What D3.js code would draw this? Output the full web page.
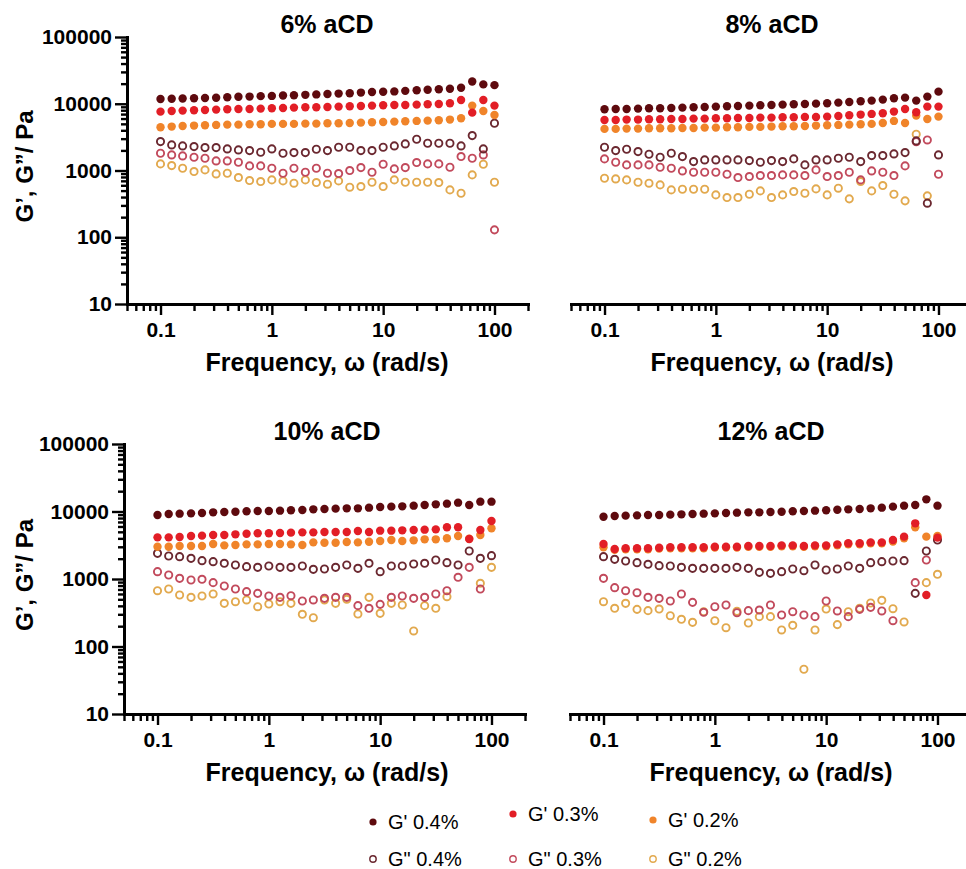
<!DOCTYPE html>
<html>
<head>
<meta charset="utf-8">
<script src="https://cdn.jsdelivr.net/npm/d3@7"></script>
<style>
body{margin:0;background:#fff;}
svg text{font-family:"Liberation Sans",Arial,Helvetica,sans-serif;}
</style>
</head>
<body>
<svg id="chart" width="966" height="869"></svg>
<script>
// frequency sweep (rad/s)
const freq = [0.1, 0.126, 0.158, 0.2, 0.251, 0.316, 0.398, 0.501, 0.631, 0.794,
              1, 1.26, 1.58, 2, 2.51, 3.16, 3.98, 5.01, 6.31, 7.94,
              10, 12.6, 15.8, 20, 25.1, 31.6, 39.8, 50.1, 63.1, 79.4, 100];
const seriesNames = ["G' 0.4%", "G' 0.3%", "G' 0.2%", 'G" 0.4%', 'G" 0.3%', 'G" 0.2%'];
const seriesColors = ['#5e0a0e', '#e21e26', '#f0842a', '#6b2830', '#c24a5c', '#e2a94e'];
const seriesFilled = [true, true, true, false, false, false];
const panelTitles = ['6% aCD', '8% aCD', '10% aCD', '12% aCD'];
const yTicks = [10, 100, 1000, 10000, 100000];
const xTicks = [0.1, 1, 10, 100];

// 6% aCD
const p6_Gp04 = [11800,11900,12000,12100,12200,12300,12500,12700,12800,13000,13100,13300,13400,13600,13800,14000,14200,14400,14700,15000,15100,15300,15600,15900,16200,16500,16800,17400,21500,19500,19000];
const p6_Gp03 = [7620,7800,7890,7980,8070,8170,8260,8360,8360,8460,8550,8650,8750,8850,8850,8960,9060,9170,9270,9380,9490,9600,9600,9710,9820,9930,10160,11400,7360,11400,9380];
const p6_Gp02 = [4440,4550,4650,4710,4760,4820,4870,4870,4930,4930,4990,4990,4990,5040,5040,5100,5100,5160,5220,5280,5340,5400,5470,5530,5590,5660,5790,6060,9380,7800,6790];
const p6_Gpp04 = [2711,2417,2335,2282,2204,2204,2105,2034,1988,1877,2105,1813,1855,1855,2081,1988,2230,2230,1988,1988,2230,2335,2502,2938,2560,2560,2560,2335,3334,2105,5101];
const p6_Gpp03 = [1813,1712,1654,1580,1526,1392,1392,1329,1172,1172,1081,910,1081,942,1081,910,900,998,1106,942,1241,1057,1106,1315,1256,1256,1119,1617,1526,1712,129];
const p6_Gpp02 = [1256,1185,1081,964,1021,889,910,784,707,683,723,699,645,723,660,623,699,562,575,667,575,723,667,667,667,660,512,456,859,1241,667];

// 8% aCD
const p8_Gp04 = [8263,8358,8358,8455,8553,8553,8652,8752,8853,8956,9059,9163,9268,9376,9484,9594,9705,9817,9930,10040,10160,10400,10640,10890,11140,11530,12070,12350,11140,12790,15190];
const p8_Gp03 = [5720,5720,5790,5790,5850,5850,5920,5920,5990,5990,6060,6060,6130,6130,6200,6200,6270,6270,6350,6350,6420,6570,6720,6880,7040,7200,7630,8360,7450,9060,9060];
const p8_Gp02 = [4200,4200,4240,4240,4290,4290,4290,4340,4340,4390,4390,4440,4440,4500,4500,4550,4600,4600,4650,4710,4760,4820,4870,4930,4990,5160,5530,5160,6640,5920,6420];
const p8_Gpp04 = [2230,1988,2081,1920,1752,1580,1813,1616,1360,1441,1441,1441,1441,1408,1329,1408,1360,1492,1213,1441,1441,1526,1580,1360,1673,1673,1772,1855,2774,324,1712];
const p8_Gpp03 = [1492,1329,1213,1213,1213,1119,1081,986,942,942,942,879,784,811,840,840,859,859,840,1021,811,840,942,723,986,942,840,1172,2700,2871,879];
const p8_Gpp02 = [766,748,723,667,645,609,512,524,524,524,431,393,393,441,495,393,431,484,456,530,431,543,376,683,495,595,441,351,3491,417,null];

// 10% aCD
const p10_Gp04 = [8870,9180,9290,9390,9500,9720,9830,9940,10060,10170,10170,10290,10410,10520,10770,10890,11020,11140,11140,11400,11660,11800,11930,12200,12490,12770,13060,13520,12490,13990,13990];
const p10_Gp03 = [4140,4140,4190,4340,4390,4490,4490,4590,4690,4750,4750,4800,4860,4910,4910,4970,4970,4970,5140,4970,5200,5200,5260,5320,5380,5440,5830,5830,3910,5320,7230];
const p10_Gp02 = [3010,3010,3080,3080,3080,3300,3150,3190,3260,3260,3300,3300,3260,3190,3490,3450,3450,3530,3490,3570,3660,3780,3660,3740,3870,3870,4010,4340,3950,4490,5630];
const p10_Gpp04 = [2400,2191,2142,2024,1869,1806,1707,1612,1523,1489,1558,1489,1489,1558,1391,1407,1489,1612,1439,1707,1284,1558,1558,1668,1707,1912,1746,1612,2599,2024,2216];
const p10_Gpp03 = [1284,1146,1023,967,989,883,788,711,649,613,560,535,566,472,489,517,535,535,403,368,421,535,560,517,535,600,671,1059,1489,711,null];
const p10_Gpp02 = [671,711,579,535,560,600,436,461,489,389,426,461,436,300,267,489,436,500,303,535,310,436,412,170,403,368,547,null,null,863,1489];

// 12% aCD
const p12_Gp04 = [8380,8580,8680,8770,8870,8870,8980,9080,9180,9290,9390,9500,9610,9720,9720,9830,9940,10060,10170,10290,10410,10640,10770,10890,11140,11400,11800,12200,12490,15140,12200];
const p12_Gp03 = [3300,2780,2850,2850,2850,2910,2950,2950,2950,2950,3010,3010,3010,3080,3080,3080,3150,3150,3080,3150,3150,3260,3380,3380,3490,3490,3780,4240,6680,579,4100];
const p12_Gp02 = [2950,2700,2760,2760,2760,2820,2850,2850,2850,2850,2920,2920,2920,2990,2990,2990,3060,3060,2990,3060,3060,3160,3270,3270,3380,3380,3600,4000,5830,4240,4340];
const p12_Gpp04 = [2142,1956,1848,1746,1650,1576,1558,1489,1439,1439,1439,1439,1489,1439,1255,1213,1284,1407,1328,1612,1359,1407,1558,1439,1746,1806,1848,1869,613,2599,3783];
const p12_Gpp03 = [1023,744,671,627,535,517,472,600,451,321,389,412,317,340,347,412,293,328,293,277,472,336,277,355,380,336,241,null,883,1912,null];
const p12_Gpp02 = [461,368,436,355,340,359,286,253,228,328,241,190,332,223,277,277,176,206,46,176,359,211,328,368,441,483,363,231,null,883,1173];

const panelData = [
  [p6_Gp04, p6_Gp03, p6_Gp02, p6_Gpp04, p6_Gpp03, p6_Gpp02],
  [p8_Gp04, p8_Gp03, p8_Gp02, p8_Gpp04, p8_Gpp03, p8_Gpp02],
  [p10_Gp04, p10_Gp03, p10_Gp02, p10_Gpp04, p10_Gpp03, p10_Gpp02],
  [p12_Gp04, p12_Gp03, p12_Gp02, p12_Gpp04, p12_Gpp03, p12_Gpp02]
];

// panel placement
const layout = [
  {x0: 127, x1: 528, yTop: 37, yBot: 304, yAxis: true, cx: 327},
  {x0: 571, x1: 972, yTop: 37, yBot: 304, yAxis: false, cx: 772},
  {x0: 124, x1: 525, yTop: 444, yBot: 714, yAxis: true, cx: 327},
  {x0: 570, x1: 971, yTop: 444, yBot: 714, yAxis: false, cx: 771}
];
const drawOrder = [5, 4, 3, 2, 1, 0];

const svg = d3.select('#chart');

function styleAxis(sel, fontSize) {
  sel.attr('font-family', null).attr('font-size', null);
  sel.select('.domain').attr('stroke', '#000').attr('stroke-width', 3).attr('stroke-linecap', 'square');
  sel.selectAll('.tick line').attr('stroke', '#000').attr('stroke-width', 2.4);
  sel.selectAll('.tick text').attr('fill', '#000').style('font-size', fontSize + 'px').style('font-weight', 'bold');
}

layout.forEach((L, pi) => {
  const x = d3.scaleLog().domain([0.05, 200]).range([L.x0, L.x1]);
  const y = d3.scaleLog().domain([10, 100000]).range([L.yBot, L.yTop]);
  const g = svg.append('g');

  // minor ticks first, then majors with labels
  const xMinor = x.ticks().filter(v => !xTicks.includes(v));
  g.append('g').attr('transform', `translate(0,${L.yBot})`)
    .call(d3.axisBottom(x).tickValues(xMinor).tickSize(7).tickSizeOuter(0).tickFormat(''))
    .call(s => styleAxis(s, 21));
  g.append('g').attr('transform', `translate(0,${L.yBot})`)
    .call(d3.axisBottom(x).tickValues(xTicks).tickSize(11).tickSizeOuter(0).tickPadding(7).tickFormat(d => String(d)))
    .call(s => styleAxis(s, 21));

  if (L.yAxis) {
    const yMinor = y.ticks().filter(v => !yTicks.includes(v));
    g.append('g').attr('transform', `translate(${L.x0},0)`)
      .call(d3.axisLeft(y).tickValues(yMinor).tickSize(6).tickSizeOuter(0).tickFormat(''))
      .call(s => styleAxis(s, 21));
    g.append('g').attr('transform', `translate(${L.x0},0)`)
      .call(d3.axisLeft(y).tickValues(yTicks).tickSize(12).tickSizeOuter(0).tickPadding(3).tickFormat(d => String(d)))
      .call(s => styleAxis(s, 21));
    g.append('text')
      .attr('transform', `translate(33,${(L.yTop + L.yBot) / 2 - 4}) rotate(-90)`)
      .attr('text-anchor', 'middle')
      .style('font-size', '24px').style('font-weight', 'bold')
      .text('G’, G”/ Pa');
  }

  // points
  drawOrder.forEach(si => {
    const vals = panelData[pi][si];
    const pts = freq.map((f, i) => ({f: f, v: vals[i]})).filter(d => d.v != null);
    const filled = seriesFilled[si];
    g.append('g').selectAll('circle').data(pts).join('circle')
      .attr('cx', d => x(d.f))
      .attr('cy', d => y(d.v))
      .attr('r', filled ? 4.2 : 3.6)
      .attr('fill', filled ? seriesColors[si] : 'none')
      .attr('stroke', filled ? 'none' : seriesColors[si])
      .attr('stroke-width', 1.9);
  });

  g.append('text')
    .attr('x', L.cx).attr('y', L.yTop - 4)
    .attr('text-anchor', 'middle')
    .style('font-size', '25px').style('font-weight', 'bold')
    .text(panelTitles[pi]);

  g.append('text')
    .attr('x', L.cx).attr('y', L.yBot + 67)
    .attr('text-anchor', 'middle')
    .style('font-size', '25px').style('font-weight', 'bold')
    .text('Frequency, ω (rad/s)');
});

// legend
const legendPos = [[373, 822], [513, 814], [653, 820], [373, 859], [513, 859], [653, 859]];
const legend = svg.append('g');
seriesNames.forEach((name, i) => {
  const [lx, ly] = legendPos[i];
  legend.append('circle')
    .attr('cx', lx).attr('cy', ly)
    .attr('r', seriesFilled[i] ? 3.6 : 3.2)
    .attr('fill', seriesFilled[i] ? seriesColors[i] : 'none')
    .attr('stroke', seriesFilled[i] ? 'none' : seriesColors[i])
    .attr('stroke-width', 1.4);
  legend.append('text')
    .attr('x', lx + 15).attr('y', ly + 7)
    .style('font-size', '20px')
    .text(name);
});
</script>
</body>
</html>
